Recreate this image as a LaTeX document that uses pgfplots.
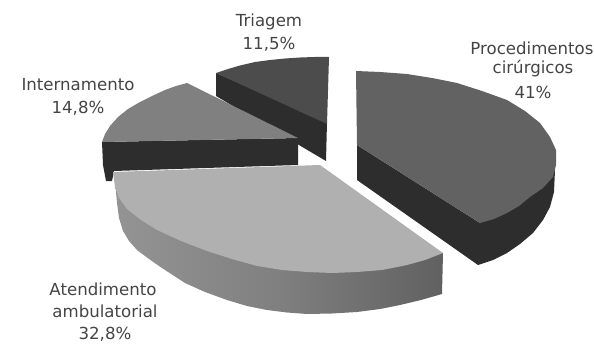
\documentclass[border=0pt]{standalone}
\usepackage{pgfplots}
\pgfplotsset{compat=1.18}
\usepackage{fontspec}
\setmainfont{DejaVu Sans}
\definecolor{sidedark}{HTML}{2D2D2D}
\definecolor{topproc}{HTML}{626262}
\definecolor{toptri}{HTML}{4C4C4C}
\definecolor{topint}{HTML}{808080}
\definecolor{topate}{HTML}{B0B0B0}
\definecolor{labeltext}{HTML}{444444}
% Rim of the largest lower wedge, lit from the left
\pgfdeclarehorizontalshading{rimgray}{100bp}{
  color(0bp)=(black!38); color(25bp)=(black!42); color(50bp)=(black!50);
  color(75bp)=(black!62); color(100bp)=(black!68)}
\begin{document}
\begin{tikzpicture}
\begin{axis}[
  scale only axis, width=594pt, height=345pt,
  xmin=0, xmax=594, ymin=0, ymax=345, y dir=reverse,
  axis lines=none, clip=false,
  nodes={font=\fontsize{16.6}{18}\selectfont, text=labeltext, align=center, inner sep=0pt}
]
% Triagem
\addplot[draw=none, fill=sidedark] coordinates {(216,73) (327,122) (326,161) (216,96)} -- cycle;
\addplot[draw=none, fill=toptri] coordinates {(216,73) (228,69) (240,65.5) (255,62) (270,60) (285,58.5) (300,57.5) (315,57) (329,57) (327,124)} -- cycle;
% Internamento
\addplot[draw=none, fill=sidedark] coordinates {(102,142) (298,138) (298,165) (114,171) (112,181) (106,181) (103,165)} -- cycle;
\addplot[draw=none, fill=topint] coordinates {(102,142) (105,134) (110,126) (118,117) (128,109) (140,102) (152,96) (165,90) (176,86) (187,83) (298,138)} -- cycle;
% Procedimentos cirurgicos
\addplot[draw=none, fill=sidedark] coordinates {(357,145) (357,180) (478,265) (493,260) (507,253) (520,244) (533,233) (543,220) (550,207) (554,192) (555,170) (480,223)} -- cycle;
\addplot[draw=none, fill=topproc] coordinates {(356,71) (380,72) (407,74) (432,78) (457,83) (482,91) (507,100) (525,111) (540,123) (550,137) (556,150) (556,165) (553,177) (543,188) (530,197) (519,206) (507,213) (494,219) (480,223) (357,145)} -- cycle;
% Atendimento ambulatorial
\addplot[draw=none, shading=rimgray] coordinates {(115,180) (116,192) (117,203) (119,218) (123,231) (129,241) (137,250) (149,259) (162,268) (185,283) (205,292) (227,300) (247,306) (267,310) (287,312.5) (307,314) (332,313.5) (357,312) (380,309) (400,305) (421,300) (442,294) (443,253) (300,230)} -- cycle;
\addplot[draw=none, fill=topate] coordinates {(113,172) (320,165) (443,253) (425,260) (407,265) (382,270) (357,272) (332,273) (307,272) (282,270) (257,266) (232,259) (207,251) (181,241) (157,230) (141,220) (127,209) (119,198) (115,187)} -- cycle;
% Etiquetas
\node at (axis cs:269,22) {Triagem};
\node at (axis cs:269,44) {11,5\%};
\node at (axis cs:78,85) {Internamento};
\node at (axis cs:78,108) {14,8\%};
\node at (axis cs:532,48) {Procedimentos};
\node at (axis cs:533,69) {cirúrgicos};
\node at (axis cs:533,92) {41\%};
\node at (axis cs:103,289) {Atendimento};
\node at (axis cs:105,311) {ambulatorial};
\node at (axis cs:105,334) {32,8\%};
\end{axis}
\path[use as bounding box] (0,0) rectangle (594pt,345pt);
\end{tikzpicture}
\end{document}
